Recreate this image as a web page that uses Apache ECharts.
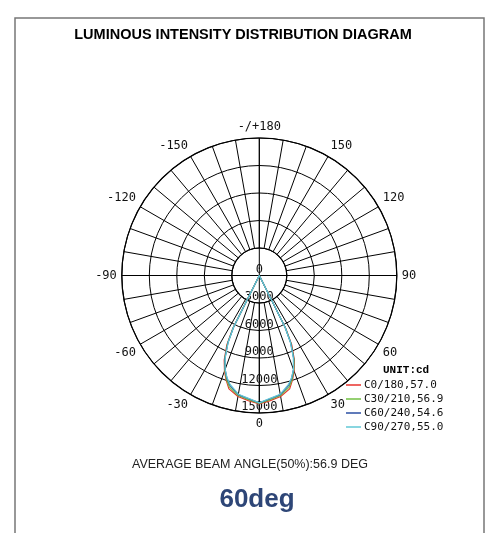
<!DOCTYPE html>
<html>
<head>
<meta charset="utf-8">
<script src="https://cdn.jsdelivr.net/npm/echarts@6/dist/echarts.min.js"></script>
<style>
html, body { margin: 0; padding: 0; background: #fff; }
#main { width: 492px; height: 533px; }
</style>
</head>
<body>
<div id="main"></div>
<script>
// gamma angles (deg) of the points, one half of a C-plane
var gammaAngles = [0, 5, 10, 15, 17.5, 20, 22.5, 25, 26.5, 30];

// intensity (cd) at each gamma angle
var c0Values  = [14000, 13700, 13400, 12800, 12000, 11100, 10000, 8400, 6500, 0];
var c30Values = [13950, 13600, 13300, 12600, 11900, 11000, 9900, 8200, 6400, 0];
var c60Values = [13900, 13500, 13200, 12400, 11750, 10900, 9800, 8100, 6300, 0];
var c90Values = [13900, 13450, 13150, 12300, 11700, 10900, 9700, 8000, 6300, 0];

var seriesNames = ['C0/180,57.0', 'C30/210,56.9', 'C60/240,54.6', 'C90/270,55.0'];
var seriesColors = ['#e8322c', '#72c043', '#2b4fa3', '#62c9d6'];

// angle tick labels, every 30 deg starting at the bottom
var angleLabels = ['0', '30', '60', '90', '120', '150', '-/+180', '-150', '-120', '-90', '-60', '-30'];

// closed curve: right half (C0 side) then left half (C180 side)
function buildCurve(values) {
  var pts = [];
  for (var i = gammaAngles.length - 1; i >= 0; i--) {
    pts.push([values[i], gammaAngles[i]]);
  }
  for (var j = 1; j < gammaAngles.length; j++) {
    pts.push([values[j], 360 - gammaAngles[j]]);
  }
  return pts;
}

var allValues = [c0Values, c30Values, c60Values, c90Values];
var series = allValues.map(function (vals, k) {
  return {
    name: seriesNames[k],
    type: 'line',
    coordinateSystem: 'polar',
    polarIndex: 1,
    symbol: 'none',
    color: seriesColors[k],
    lineStyle: { width: 1.2, color: seriesColors[k] },
    data: buildCurve(vals)
  };
});

var chart = echarts.init(document.getElementById('main'));
chart.setOption({
  animation: false,
  polar: [
    { center: [259.3, 275.5], radius: [27.5, 137.5] },
    { center: [259.3, 275.5], radius: [0, 137.5] }
  ],
  angleAxis: [
    {
      polarIndex: 0, type: 'value', min: 0, max: 360, interval: 10,
      startAngle: -90, clockwise: false,
      axisLine: { lineStyle: { color: '#000', width: 1.2 } },
      axisTick: { show: false },
      axisLabel: {
        margin: 5, fontFamily: 'DejaVu Sans Mono', fontSize: 12, color: '#111',
        formatter: function (v) { return v % 30 === 0 ? angleLabels[v / 30] : ''; }
      },
      splitLine: { lineStyle: { color: '#000', width: 1 } }
    },
    {
      polarIndex: 1, type: 'value', min: 0, max: 360, interval: 90,
      startAngle: -90, clockwise: false,
      axisLine: { show: false },
      axisTick: { show: false },
      axisLabel: { show: false },
      splitLine: { lineStyle: { color: '#000', width: 1 } }
    }
  ],
  radiusAxis: [
    {
      polarIndex: 0, type: 'value', min: 0, max: 1,
      axisLine: { show: false }, axisTick: { show: false },
      axisLabel: { show: false }, splitLine: { show: false }
    },
    {
      polarIndex: 1, type: 'value', min: 0, max: 15000, interval: 3000,
      axisLine: { show: false }, axisTick: { show: false },
      axisLabel: {
        margin: 0, align: 'center', verticalAlign: 'bottom',
        fontFamily: 'DejaVu Sans Mono', fontSize: 12, color: '#111',
        formatter: function (v) { return String(v); }
      },
      splitLine: { lineStyle: { color: '#000', width: 1 } }
    }
  ],
  legend: {
    orient: 'vertical', left: 341, top: 373,
    icon: 'rect', itemWidth: 15, itemHeight: 1.5, itemGap: 0,
    textStyle: { fontFamily: 'DejaVu Sans Mono', fontSize: 11, color: '#111',
      lineHeight: 14, padding: [0, 0, 0, -2] },
    data: seriesNames
  },
  graphic: [
    {
      type: 'rect', silent: true,
      shape: { x: 15, y: 18, width: 469, height: 600 },
      style: { fill: 'none', stroke: '#777', lineWidth: 1.5 }
    },
    {
      type: 'text', x: 243, y: 35,
      style: { text: 'LUMINOUS INTENSITY DISTRIBUTION DIAGRAM', fill: '#000',
        font: 'bold 14.5px "Liberation Sans"', align: 'center', verticalAlign: 'middle' }
    },
    {
      type: 'text', x: 383, y: 370,
      style: { text: 'UNIT:cd', fill: '#000',
        font: 'bold 11px "Liberation Mono"', align: 'left', verticalAlign: 'middle' }
    },
    {
      type: 'text', x: 250, y: 465,
      style: { text: 'AVERAGE BEAM ANGLE(50%):56.9 DEG', fill: '#222',
        font: '12.5px "Liberation Sans"', align: 'center', verticalAlign: 'middle' }
    },
    {
      type: 'text', x: 257, y: 500,
      style: { text: '60deg', fill: '#2e4677',
        font: 'bold 26px "Liberation Sans"', align: 'center', verticalAlign: 'middle' }
    }
  ],
  series: series
});
</script>
</body>
</html>
